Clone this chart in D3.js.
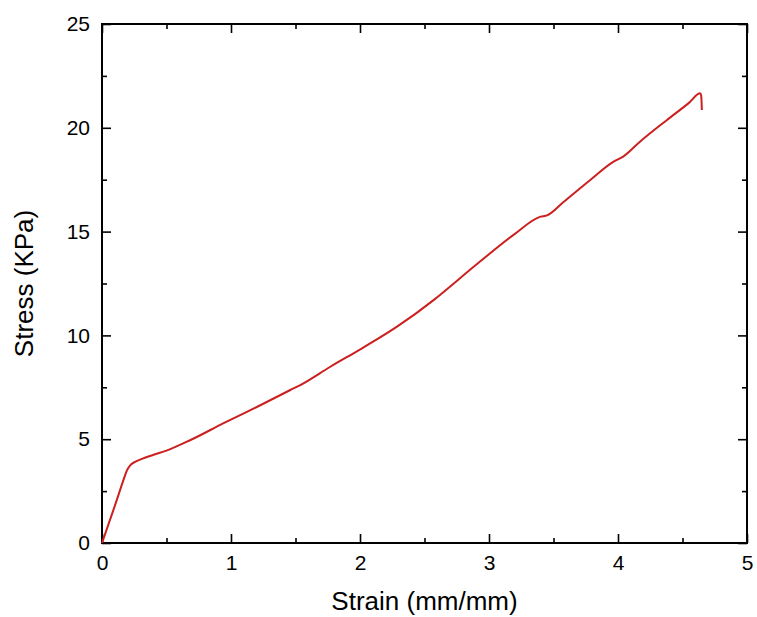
<!DOCTYPE html>
<html>
<head>
<meta charset="utf-8">
<script src="https://cdn.jsdelivr.net/npm/d3@7"></script>
<style>
  body { margin: 0; background: #fff; }
  text { font-family: "Liberation Sans", Arial, sans-serif; fill: #000; }
</style>
</head>
<body>
<div id="chart"></div>
<script>
// datos
const strain = [0, 0.10, 0.17, 0.19, 0.22, 0.26, 0.30, 0.40, 0.50, 0.686, 0.943, 1.20, 1.46, 1.538, 1.77, 2.016, 2.287,
  2.57, 2.62, 2.90, 3.19, 3.40, 3.45, 3.58, 3.785, 3.966, 4.04, 4.17, 4.38, 4.55, 4.637, 4.645, 4.65];
const stress = [0, 1.8, 3.1, 3.45, 3.75, 3.92, 4.03, 4.25, 4.45, 4.96, 5.77, 6.55, 7.37, 7.61, 8.49, 9.38, 10.42,
  11.70, 11.95, 13.40, 14.84, 15.72, 15.78, 16.44, 17.49, 18.37, 18.61, 19.33, 20.38, 21.20, 21.66, 21.55, 20.86];
const xTicks = [0, 1, 2, 3, 4, 5];
const yTicks = [0, 5, 10, 15, 20, 25];

const width = 757, height = 617;
const margin = { top: 24, right: 10, bottom: 74, left: 102 };
const innerW = 747 - margin.left, innerH = 543 - margin.top;

const svg = d3.select('#chart').append('svg')
  .attr('width', width).attr('height', height);

const x = d3.scaleLinear().domain([0, 5]).range([margin.left, margin.left + innerW]);
const y = d3.scaleLinear().domain([0, 25]).range([margin.top + innerH, margin.top]);

const minorX = d3.range(0.5, 5, 1);
const minorY = d3.range(2.5, 25, 5);

// ejes con ticks hacia dentro
function tickAxis(axis, ticks, len, labels) {
  return axis.tickValues(ticks).tickSizeInner(-len).tickSizeOuter(0).tickPadding(labels ? 12 : 0)
    .tickFormat(labels ? d3.format('d') : '');
}

const bottomY = margin.top + innerH;
const rightX = margin.left + innerW;

const gx = svg.append('g').attr('transform', `translate(0,${bottomY})`)
  .call(tickAxis(d3.axisBottom(x), xTicks, 9, true));
svg.append('g').attr('transform', `translate(0,${bottomY})`)
  .call(tickAxis(d3.axisBottom(x), minorX, 5, false));
svg.append('g').attr('transform', `translate(0,${margin.top})`)
  .call(tickAxis(d3.axisTop(x), xTicks, 9, false));
svg.append('g').attr('transform', `translate(0,${margin.top})`)
  .call(tickAxis(d3.axisTop(x), minorX, 5, false));

const gy = svg.append('g').attr('transform', `translate(${margin.left},0)`)
  .call(tickAxis(d3.axisLeft(y), yTicks, 9, true));
svg.append('g').attr('transform', `translate(${margin.left},0)`)
  .call(tickAxis(d3.axisLeft(y), minorY, 5, false));
svg.append('g').attr('transform', `translate(${rightX},0)`)
  .call(tickAxis(d3.axisRight(y), yTicks, 9, false));
svg.append('g').attr('transform', `translate(${rightX},0)`)
  .call(tickAxis(d3.axisRight(y), minorY, 5, false));

svg.selectAll('.domain').remove();
svg.selectAll('.tick line').attr('stroke', '#000').attr('stroke-width', 1.6);
svg.selectAll('.tick text').attr('font-size', '21px').attr('fill', '#000');
gx.selectAll('.tick text').attr('dy', '0.71em');

// marco
svg.append('rect')
  .attr('x', margin.left).attr('y', margin.top)
  .attr('width', innerW).attr('height', innerH)
  .attr('fill', 'none').attr('stroke', '#000').attr('stroke-width', 2);

// curva
const line = d3.line().x((d, i) => x(strain[i])).y(d => y(d)).curve(d3.curveMonotoneX);
svg.append('path')
  .datum(stress)
  .attr('fill', 'none')
  .attr('stroke', '#cc1f1f')
  .attr('stroke-width', 2)
  .attr('stroke-linejoin', 'round')
  .attr('d', line);

// titulos de ejes
svg.append('text')
  .attr('x', x(2.5)).attr('y', 610)
  .attr('text-anchor', 'middle').attr('font-size', '26px')
  .text('Strain (mm/mm)');
svg.append('text')
  .attr('transform', `translate(33,${y(12.5)}) rotate(-90)`)
  .attr('text-anchor', 'middle').attr('font-size', '26px')
  .text('Stress (KPa)');
</script>
</body>
</html>
